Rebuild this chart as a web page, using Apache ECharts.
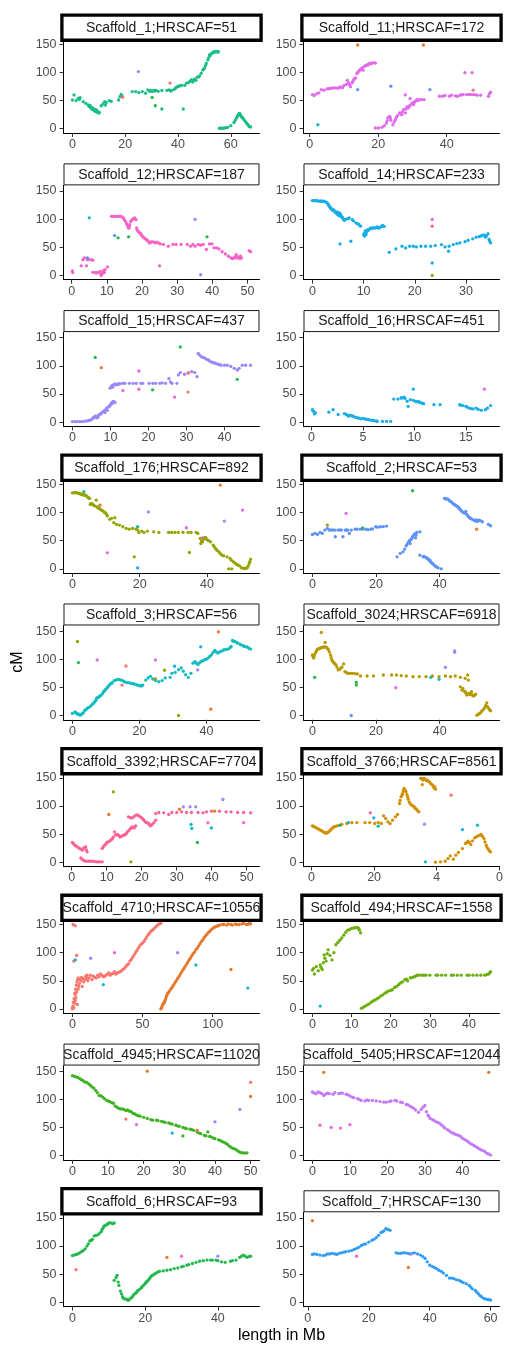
<!DOCTYPE html>
<html><head><meta charset="utf-8">
<script src="https://cdn.jsdelivr.net/npm/echarts@6/dist/echarts.min.js"></script>
<style>html,body{margin:0;padding:0;background:#fff}#c{width:509px;height:1349px}</style>
</head><body><div id="c"></div>
<script>
// ---------------- DATA ----------------
const yTicks = [0, 50, 100, 150];

const s1_main = [[0,51],[0.6,60],[1.4,50],[2.2,54],[2.9,55],[2.6,52],[4.1,48],[5.1,45],[6,42.5],[6.3,40],[6.6,39.6],[7,37],[7.3,38],[7.6,36.6],[8,35],[8.4,33.7],[8.7,34],[9.1,32],[9.4,31],[9.8,29.5],[10,27.8],[7.8,35.5],[8.9,31.5],[6.8,41],
[10.9,40.8],[11.6,44],[12.2,48],[12.5,42],[12.8,46.7],[14,50],[14.7,48.4],[17.5,51],[18,57],[18.5,61],[19,57],
[22.7,66],[24,66],[25.2,64],[26.5,66],[27.7,63],[28.6,69],[29.6,68],[30.2,66],[30.8,68],[31.7,68],[33.9,68],[35.8,68],[36.6,69],[37.2,67],[37.6,68],[38.6,70],[39.5,74],[40.4,76],[41.4,77],[42.6,77],[43.2,81],[44.5,84],[45.1,87],[45.6,83],[46.3,88],[46.8,86],[47.3,91.6],[48.2,94],[48.8,98.6],[49.4,104.5],[50,107.5],[50.7,116],[51.3,122],[51.9,131],[52.5,133],[53.2,135],[53.8,136],[54.4,137],[55.3,137],
[55.7,1],[56.5,1],[57.5,1],[58.2,2],[58.8,2.4],[60,5.3],[61.2,11],[62.2,19],[62.7,24],[63.1,26.6],[63.6,25],[64,22],[64.5,19],[65,16],[65.5,13],[66,10],[66.8,5.3],[67.5,3],[33.9,35],[42,35],
[6.9,38],[7.5,34],[8.2,33],[8.6,31],[9.2,30],[9.6,29],[10.2,29],[9,33.5],[51.6,126],[52.2,130],[52.8,134],[53.5,136.5],[54.1,137],[54.8,137.5],[55,136],[49.7,106],[50.4,112],[47.8,92],[46,85.5],[44,82],[61.7,15],[62.5,22],[63.3,27],[64.2,20.5],[66.3,8],[67,4],[56,0.5],[57,1],[29.2,66.5],[31.2,67],[32.5,66.5],[39,72],[40,75],[41,76.5]];
const s1_other = [[25,101.6,'PU'],[37,81,'R'],[19,56,'R'],[30.2,55.5,'G2'],[31.4,40.8,'G2']];

const s11_main = [[0.8,60.7],[1.3,59],[2,62],[2.7,63.7],[3.4,69.6],[4.2,68.5],[5.1,70.8],[6.1,72],[7.1,72.6],[8.2,72],[9,74.4],[9.6,73],[10,76.8],[10.7,78.6],[11,86],[11.4,81.5],[11.9,74.4],[12.4,81.5],[12.9,87.5],[13.4,90.5],[13.8,98],[14.3,102],[14.8,105],[15.3,108],[15.6,104],[16,111],[16.8,114],[17.3,115],[17.8,116],[18.3,117],[18.8,117],[19.2,116.7],
[19.2,1.2],[20.1,1.2],[21.1,2.4],[21.8,5.4],[22.4,10],[22.8,19],[23.3,22],[23.7,15],[24.3,7],[25,16],[25.6,23],[26.2,28],[26.9,25],[27.4,34],[27.9,28],[27.9,60],[28.4,38.7],[28.8,37],[29.3,41],[29.3,53.6],[29.8,44.6],[30.3,42.9],[30.8,48.8],[31.3,51.8],[32,51.8],[32.7,51.8],[33.4,51.8],
[37.9,57.7],[38.8,57.7],[39.5,59],[40.8,57.7],[41.4,59.5],[43.1,57.7],[43.9,59.5],[44.8,60.7],[45.8,60.7],[47,60.7],[47.7,60.7],[48.9,59.5],[49.9,59.5],[52.2,57.7],[52.5,62.5],[52.8,64.9],[45.3,99.4],[47.4,99.4],
[16.4,112],[17,113],[17.5,116],[18,115.5],[14,100],[14.6,104],[15,106],[12.6,84],[13.1,89],[11.7,78],[22.6,14],[23.5,19],[24.7,12],[25.3,20],[26.5,26],[27,30],[28.1,35],[29,40],[30,46],[30.6,47],[31.6,50],[44.3,60],[46.5,61],[48.3,60.5],[42.5,58.5],[5.6,71],[6.6,72],[7.6,72.5],[8.6,73]];
const s11_other = [[14,148.8,'O'],[33.2,148.8,'O'],[14,69.6,'CB'],[23.7,75.6,'CB'],[35.1,69.6,'CB'],[47.7,68.5,'R'],[2.4,7,'CY']];

const s12_main = [[0.2,8],[0.3,5],[2.7,17],[3.2,28],[3.6,31],[4.2,17],[4.5,28],[5,28],[5.7,28],[6,27],
[6,5.4],[6.8,5.4],[7.5,5.4],[8.1,7],[8.4,0],[8.7,3],[9.1,9],[9.5,10],[10.2,15],
[11.3,105],[12.2,105],[13.1,105],[14,105],[14.7,102],[15.3,96],[15.8,90],[16.2,84],[16.5,90],[16.8,96],[17.4,100],[17.9,102],[18.3,99],
[18.5,84.5],[18.9,78.6],[19.4,75.6],[19.8,72.6],[20.3,68.5],[21,65],[21.6,62],[22.1,57.7],[22.8,60],[23.4,59],[24.3,59],[25.2,56],[26.1,55],[27.5,52],[28.8,55],[29.7,55],[31.1,55],[32.9,55],[33.8,52],[34.5,55],[35.1,52],[36,55],[36.7,53.6],[37.4,55],[38.3,46],[39.2,56],[39.9,56],[40.5,49],[41.2,49],[41.9,47],[42.8,42],[43.7,38],[44.6,34],[45.3,31],[46.2,31],[47.3,33],[48,34],[50.5,44],[50.9,42],[25,17],
[11.7,105],[12.6,105],[13.5,105],[14.3,104],[15,99],[15.6,92],[16,87],[16.4,86],[17.1,98],[17.7,101],[18.6,81],[19.1,77],[19.6,74],[20,70],[20.7,66],[21.3,63],[21.9,60],[22.4,58],[23.8,58],[24.8,57.5],[7,4],[8.3,2],[8.9,6],[9.3,5],[46.5,33],[47,31],[46.8,37],[45.8,30],[47.8,30],[48.3,31]];
const s12_other = [[5,102.4,'CY'],[4.5,31,'CB'],[12.2,70.8,'CB'],[13.2,66.7,'G2'],[16.2,68.5,'G2'],[38.5,68.5,'G2'],[35.1,99.4,'PU'],[36.7,1.2,'PU']];

const s14_main = [[0,133],[0.4,132.5],[0.8,133],[1.2,132],[1.5,132],[1.8,132],[2.1,132],[2.4,131],[2.7,130],[3.1,126],[3.4,122],[3.7,118.5],[4,117],[4.3,114],[4.6,111],[4.8,113],[5,108],[5.3,111],[5.6,105],[5.9,102],[6.2,98],[6.7,100.6],[7.2,102],[7.8,99],[8.5,93.5],[9.1,90.5],[9.4,87.5],
[10,72],[10.2,70],[10.4,76.8],[10.6,78],[10.8,81.5],[11.3,84],[11.8,85],[12.3,84.5],[12.7,86.3],[13.2,85],[13.7,88.7],[14,87],[5.4,56],[7.5,60.7],
[15,41],[16.3,47],[17.5,51.8],[18.2,48.8],[19,51.8],[19.7,51.8],[20.3,50.6],[21.2,51.8],[22.1,51.8],[23.1,51.8],[24,53],[25.2,54.8],[25.9,50.6],[26.6,42.9],[26.7,51.8],[27.5,54.8],[28.2,56.5],[28.8,57.7],[29.8,60],[30.4,62.5],[31.3,65],[32,68],[32.6,69],[33.2,71],[33.9,70],[34.3,74],[34.5,64],[34.8,58],[23.4,22],
[0.2,133],[0.6,133],[1,132.5],[1.7,132],[2.3,131.5],[2.9,129],[3.2,124],[3.5,120],[3.9,116],[4.2,116],[4.5,112],[4.9,109],[5.2,106],[5.5,109],[5.8,104],[6.1,100],[6.4,99],[7,101],[8,97],[8.8,92],[10.1,74],[10.3,79],[10.5,73],[10.9,80],[11.1,82],[11.5,83],[12,84],[12.5,85.5],[12.9,84],[13.5,87],[33.5,72],[33.8,68],[34,70.5],[32.9,70],[34.6,61]];
const s14_other = [[23.4,99.4,'MA'],[23.4,87.5,'PR'],[23.4,0,'OL']];

const s15_main = [[0,1],[0.7,1],[1.3,1],[2,1],[2.6,1],[3.3,1.5],[3.9,2.3],[4.3,2.8],[4.7,3.5],[5.1,5],[5.4,7],[6,10.5],[6.4,7.6],[6.8,9],[7.1,13.5],[7.7,16.4],[8.3,19.3],[8.6,17],[8.9,23.4],[9.2,21],[9.5,27],[9.9,29.3],[10.3,34],[10.7,37],[11.2,35],
[9.9,60.3],[10.3,64.4],[10.8,66],[11.2,68],[12,67],[12.5,68],[13.2,69],[13.8,69],[15,69],[16,69],[16.8,69],[18,69],[18.5,69],[20.2,69],[21.2,69],[21.9,69],[23,69],[23.6,69.7],[24.5,69],[25.4,77.3],[25.8,71.5],[26.2,69],[27.5,69],[27.9,83.8],[28.4,88],[29.5,85],[30.5,88],[31.4,89.6],[32.2,88],[32.8,80.8],
[33.1,121.9],[34,116],[34.8,114],[35.7,111],[36.5,107],[37.4,105],[38.3,103],[39.1,101],[40,101],[40.8,101],[41.7,99],[42.6,95.5],[43.4,92.6],[43.9,95.5],[44.7,101],[45.6,101],[46.9,101],
[5.7,9],[6.2,8],[6.6,11],[7.4,14],[8,18],[8.5,21],[9,25],[9.7,28],[10,31],[10.5,33],[11,36],[10.6,62],[11.5,66],[12.2,68.5],[11.8,67],[33.5,119],[34.3,115],[35.2,112],[36,109],[36.9,106],[37.8,104],[38.7,102]];
const s15_other = [[6,115,'G2'],[21.1,57.4,'G2'],[28.4,133.6,'G2'],[43.4,76,'G2'],[7.6,96.7,'O'],[17.5,90.8,'PK'],[13.3,56,'PK'],[17.5,58.6,'PK'],[26.9,44.5,'PK'],[30.4,53.3,'R'],[30.5,86.7,'R']];

const s16_main = [[0.1,22],[0.2,19.3],[0.3,14.6],[0.4,16.4],[1.7,17.6],[2.1,22],[2.6,13.5],[3.2,15.2],[3.4,13.5],[3.6,10.5],[3.9,11.7],[4.2,9.4],[4.5,7.6],[4.8,5.9],[5.2,5.9],[5.5,4.7],[5.8,3.5],[6.1,2.3],[6.4,1.2],[6.9,1.2],[7.3,1.2],[7.7,1.2],
[8,41],[8.4,41],[8.7,42.8],[9,44.5],[9.3,37],[9.4,28],[9.6,39.8],[9.9,38.7],[10.1,37],[10.4,37],[10.7,34],[10.9,32.8],[9.9,58.6],[11.9,31],[12.5,31],
[14.4,31],[14.7,29.3],[15,28],[15.3,25],[15.7,23.4],[16,25],[16.5,21],[16.9,22],[17.1,25],[17.4,29.3],
[3.7,12],[4,10.5],[4.3,8.5],[4.6,7],[5,6.5],[5.3,5],[5.6,4],[6,3],[6.3,2],[8.8,43],[9.1,42],[10.2,36],[10.5,35],[10.8,33],[14.5,30],[15.1,27],[15.5,24],[16.2,22.5]];
const s16_other = [[16.8,58.6,'MA']];

const s176_main = [[0,135],[0.5,135],[1,135.7],[1.5,134.5],[1.9,134],[2.4,133],[2.9,132],[3.4,131.5],[3.9,131],[4.5,128],[5.1,125],[5.3,114.4],[5.8,116],[6.3,113],[7.1,122],[7.3,110],[7.7,108],[8,107],[8.7,104],[9.4,101],[10,98.4],[10.4,94],[11.1,88],[11.6,89.5],[12.3,82],[12.6,90.7],[13.1,78.8],[14,77.7],[15,74.7],[16,71.7],[16.9,70.5],[17.9,71.7],[18.9,70.5],[19.4,68.8],[19.8,64.6],[20.6,67],[21.3,64.6],[22.3,67],[24.2,65.8],[25.7,64.6],[28.6,64.6],[29.5,64.6],[30.5,64.6],[31.5,64.6],[32.9,64.6],[34.4,64.6],[35.3,64.6],[36.8,64.6],[37.3,62.8],[38,54],[38.2,45],[38.7,48],[39.2,54],[39.7,55],[41.1,48],[41.9,42],[42.6,36],[43.6,30],[44.5,24.3],[46,21.3],[46.9,18.4],[47.9,12.4],[48.9,7.7],[49.7,5.3],[50.3,1.8],[51.3,0.6],[52,1.8],[52.6,9.5],[53,17.2],[46.5,0],[47.4,0],[18.4,21.3],[34.8,29],
[1.2,135],[2.1,133.5],[2.6,132.5],[3.1,131.5],[3.6,131],[4.2,129],[4.8,126],[5.5,116],[6,114.5],[6.6,112],[7.5,109],[8.3,106],[9,103],[9.7,100],[10.2,96],[38.4,50],[38.9,52],[39.4,56],[40,52],[40.5,50],[42.2,39],[43,33],[44,27],[45,23],[47.3,15],[48.4,10],[49.3,6.5],[50.8,1],[51.7,1],[52.3,5],[52.8,13]];
const s176_other = [[3.4,137,'TG'],[19.4,74.7,'TG'],[8.2,113,'O'],[44,148.8,'O'],[10.4,28.4,'MA'],[33.9,73,'MA'],[50.6,104.3,'MA'],[19.4,1.8,'SK'],[22.6,101,'PU'],[45.2,84.8,'PU'],[38.7,55,'PR']];

const s2_main = [[0,61],[0.8,62.8],[1.6,61],[2.4,64.6],[3.1,62.8],[3.9,68.8],[4.7,71.7],[5.8,68.8],[7,68.8],[7.2,57],[8,68.8],[9.1,68.8],[9.6,57],[10.3,68.8],[11.1,68.8],[11.6,62.8],[12.2,68.8],[13.4,70.5],[15.8,70.5],[16.8,70.5],[17.5,69.5],[18.4,70.5],[19.9,74.7],[21.4,74.7],[23.3,75.9],
[26.6,21.3],[27.6,27.3],[28.5,30.2],[29,35],[29.5,41],[30.2,48],[30.7,45],[31.2,54],[31.9,60],[32.4,55],[32.8,64.6],[33.8,65.8],
[33.8,24.3],[34.8,21.3],[35.9,19.6],[36.4,17],[36.9,15.4],[37.7,9.5],[38.5,5.3],[39.5,1.8],[40.5,0],
[41.5,125],[42.6,123.9],[43.6,119],[44.6,114.4],[45.2,112],[45.7,110],[46.2,107],[46.7,104],[47.4,100],[48.2,102],[48.8,94],[49.8,89.5],[50.8,86.5],[51.6,87],[52.4,86.5],[53.4,83.6],[55.3,78.8],[56,76.5],
[41.9,124.5],[42.2,124],[43,121.5],[43.3,120],[44,117],[44.3,115.5],[45,113],[45.5,111],[46,108.5],[46.5,105],[47,102],[47.8,99],[48.5,97],[49.2,92],[49.5,90],[50.2,88],[51.1,85],[51.8,84],[52.7,85.5],[29.8,44],[30.5,50],[31,52],[31.5,57],[32.1,62],[32.6,60],[35,22],[35.5,20.5],[36.2,18],[37,13],[37.4,11],[38,8],[38.8,4],[39.2,3],[5.3,69],[6.4,69],[8.6,69],[10.7,69],[14,70.5],[15,70.5],[18.9,71],[20.5,74],[22.3,75]];
const s2_other = [[4.7,77.7,'OL'],[10.6,98.4,'MA'],[15.8,72.9,'G2'],[31.5,138.7,'G2'],[51.6,70.5,'O']];

const s3_main = [[0,3.6],[0.8,6.5],[1.5,2.4],[2.3,0.6],[3,3.6],[3.7,9.5],[4.4,12.5],[5.2,15.5],[6,20.2],[6.7,24.4],[7.2,30.4],[8,33.3],[8.6,36.3],[9.3,42.3],[9.9,46.4],[10.6,51],[11.3,56],[11.9,58.3],
[12.5,62],[13.5,64.3],[14.5,63],[15.5,60],[16.5,58.3],[17.5,57],[18.4,56],[19.4,54],[20.4,52.4],[21,54],
[21.9,63],[22.6,66.7],[23.3,69.6],[24,64.9],[24.8,62],[25.8,60],[26.8,62],[27.7,66.7],[29.2,67.9],[29.7,75],[30.7,76.8],[31.7,81.5],[32.5,84.5],[33.1,78.6],[33.8,72.6],[34.6,67.9],[35.4,75],[36.6,95.8],[37.5,90.5],[38.5,96.4],[39.5,99.4],[40.5,102],[41.5,107.7],[42.5,115.5],[43.4,111],[44.4,114],[45.4,117],[46.4,118],[47.4,122.6],[47.8,133.3],[48.5,131.5],[49.3,128.6],[50.3,125.6],[51.3,122.6],[52.3,121.4],[53.2,118],
[1,5],[1.8,3],[2.6,1.5],[3.3,5],[4,10],[4.7,14],[5.5,17],[6.3,22],[7,27],[7.6,32],[8.3,35],[9,39],[9.6,44],[10.3,49],[10.9,53],[11.6,57],[13,63],[14,64],[15,62],[16,59],[17,58],[18,56.5],[19,55],[19.9,53],[20.7,53],[36,93],[37,93],[38,94],[39,97],[40,100],[41,105],[42,112],[43,113],[44,113],[45,116],[46,117.5],[47,120],[48,132],[49,130],[50,127],[51,124],[52,122],[52.8,119]];
const s3_other = [[1.5,131.5,'OL'],[24.8,64.9,'OL'],[27.5,80.4,'OL'],[31.7,0,'OL'],[1.8,94,'G2'],[7.4,98.8,'MA'],[24.8,98.8,'MA'],[16,88,'R'],[14.8,54,'R'],[30.5,87.5,'SK'],[38.3,122,'SK'],[37.4,81,'PU'],[43.6,148.8,'O'],[41.3,11.3,'O']];

const s3024_main = [[0,107.7],[0.4,102],[0.9,110.7],[1.5,117.3],[2.3,119.6],[2.8,147.6],[3.3,121.4],[4,129.8],[4.3,121.4],[5,117.3],[5.7,107.7],[6.1,98.8],[6.7,94],[7.4,90],[8.1,81],[8.9,84],[9.8,91.7],[10.2,78],[11.2,75],[12.5,75],[14.1,73.8],[15.1,70.2],[17.2,70.2],[19.2,70.2],[22.3,72],[24.9,72],[26.4,72],[27.9,70.8],[29.5,70.2],[31.6,69],[33.6,69],[35.7,69],[37.7,70.2],[39.8,69],[41.8,70.2],[43.4,69],[44.9,70.2],[46.5,67.9],[48,66],[48.8,72],[49,63],[46.5,51],[47,45],[48,42.3],[48.5,36.3],[49.2,39.3],[50,42.3],[50.6,34.5],[51.3,38],[51.7,0.6],[52.6,3.6],[53.3,8.3],[54.2,14.3],[54.8,22.6],[55.4,12.5],[56,8.3],
[0.2,105],[0.6,106],[1.2,114],[1.8,118],[2,119],[2.6,120],[3,121],[3.6,121.4],[3.9,122],[4.6,120],[5.3,113],[5.9,103],[6.4,96],[7,92],[7.7,86],[8.5,82],[9.3,86],[10.7,76],[11.8,75],[13.3,74.5],[47.3,48],[47.8,43],[48.2,40],[48.8,38],[49.5,37],[49.8,40],[50.3,36],[51,36],[52,2],[52.3,2.5],[53,6],[53.8,11],[54.5,18],[55,16],[55.7,10]];
const s3024_other = [[0.7,67.9,'G2'],[13.8,54,'G2'],[13.8,58.9,'G2'],[12.2,0,'CB'],[26.2,49.4,'MA'],[37.2,67.9,'CY'],[39.8,64.3,'CY'],[41.8,85.7,'PU'],[44.7,114.9,'PU'],[44.7,112.5,'PU']];

const s3392_main = [[0.2,35],[0.9,30.2],[1.6,27.3],[2.3,24.3],[3.1,21.3],[3.5,25.5],[4,27.3],[4.4,18.4],[2.6,7.7],[3.3,3.6],[4,1.8],[4.9,1.8],[5.9,1.8],[7,0.6],[8,0.6],[8.7,0.6],
[8.7,24.3],[9.4,30.2],[10,35],[10.8,37.3],[11.5,41],[12.2,54],[12.5,48],[13.1,49.2],[13.8,45],[14.5,46.8],[15.3,49.2],[15.9,54],[16.6,58.7],[17.2,62.8],[17.8,61],[18.3,64.6],[16.2,80.6],[17.4,78.8],[18.3,83.6],[19.2,82.4],[20,78.8],[20.6,74.7],[21.3,70.5],[22,68.8],[22.5,64.6],[23,67],[23.5,70.5],[24,74.7],[24,86.5],
[24.9,88.3],[26.3,87.7],[27.7,84.8],[28.6,88.3],[30,88.3],[31.4,89.5],[32.8,88.3],[34.2,88.3],[36.1,88.3],[37.5,87.7],[38.5,89.5],[39.9,90.7],[42.2,90.7],[44.1,89.5],[45.5,89.5],[47.4,88.3],[49.1,88.3],[51.1,87.7],
[0.5,33],[1.2,29],[2,25.5],[2.7,23],[3.7,26],[4.2,22],[2.9,5.5],[3.6,2.5],[4.5,1.8],[5.4,1.8],[6.4,1.5],[7.5,0.6],[9,27],[9.7,32],[10.4,36],[11.1,39],[11.8,44],[12.8,49],[13.5,47],[14.2,46],[14.9,48],[15.6,51],[16.3,56],[16.9,60],[17.5,62],[18,63],[16.8,79],[17.8,81],[18.7,84],[19.6,80.5],[20.3,77],[21,72],[21.7,70],[22.2,66]];
const s3392_other = [[38.9,70,'PK'],[49.1,70.5,'PK'],[10.6,84.8,'O'],[30.8,94.2,'O'],[40.8,90.7,'O'],[11.9,125,'OL'],[16.9,0.6,'OL'],[31.9,98.4,'PU'],[33.8,98.4,'PU'],[35.4,98.4,'PU'],[43.2,111.4,'PU'],[34.1,67,'CY'],[34.3,59.9,'CY'],[39.9,61,'CY'],[35.9,35,'G2']];

const s3766_main = [[0.3,64.6],[1,62.8],[1.9,60],[2.9,57],[3.8,54],[4.5,52],[5.5,54],[6.3,58.7],[7.1,62.8],[8.2,64.6],[9.7,67],[11.3,68.8],[12.9,70.5],[14.5,70.5],[17.1,70.5],[18.6,70.5],[20.2,68.8],[21.3,70.5],[22.3,68.8],[23,82.4],[23.7,77.7],[24.4,71.7],[25.1,68.8],[25.9,74.7],[26.8,80.6],[27.5,84.8],[28.1,104.3],[28.6,116.2],[29.1,122.1],[29.6,131],[30.2,125],[30.7,116.2],[31.2,107.3],[32,101.4],[32.8,98.4],[33.5,94.3],[34.3,89.5],
[34.9,148.8],[35.9,148.8],[37,145.8],[37.7,142.9],[38.5,138],[39.4,134],[39.6,129.8],[35.4,138],
[39.6,0],[41.2,0.6],[42.7,1.8],[43.6,6.5],[44.3,11.3],[45.3,5.3],[46.1,12.4],[46.9,17.2],[48.2,24.3],[49.2,33.2],[50,37.3],[50.9,31.4],[52.1,43.3],[53.2,46.8],[54.2,49.2],[55.1,42],[55.8,30.2],[56.5,23.1],[57.2,18.4],
[0.6,63.5],[1.4,61.5],[2.4,58.5],[3.3,55.5],[4.1,53],[4.8,51.5],[5.1,53],[5.9,56],[6.7,60.5],[7.6,63.5],[28.3,110],[28.9,119],[29.3,127],[29.9,128],[30.5,120],[30.9,112],[31.5,104],[32.4,100],[33.1,96],[33.9,91.5],[35.2,149],[35.6,146],[36.3,148],[36.7,145],[37.3,144],[38,140],[38.8,136],[39.1,132],[49.6,35],[50.4,35],[51.4,38],[52.6,45],[53.7,48],[54.6,46],[55.4,36],[56.1,26],[56.8,20]];
const s3766_other = [[9,65.8,'G2'],[11.8,70.5,'SK'],[19.9,78.8,'SK'],[48.2,58,'SK'],[18.8,87.7,'PR'],[21.3,64,'CY'],[36.4,0.6,'CY'],[53,65.8,'CY'],[36.1,67.6,'PU'],[44.6,119.1,'R']];

const s4710_red = [[0,0],[0.5,5],[1,2],[1.5,10],[2,15],[2,25],[2.5,20],[3,30],[3.5,8],[4,35],[4.5,40],[5,45],[6,50],[7,40],[8,48],[9,52],[10,55],[11,50],[12,55],[14,52],[15,58],[17,55],[19,57],[21,60],[23,58],[25,62],[27,60],[29,63],[31,62],[33,65],[35,68],[37,72],[39,78],[41,85],[43,92],[45,100],[47,108],[49,115],[51,120],[53,128],[55,135],[57,140],[59,145],[61,150],[63,152],[0.5,150],[2,148],[1,85],[3,95],
[0.2,3],[0.7,12],[1.2,18],[1.7,28],[2.3,35],[2.8,42],[3.2,48],[3.7,52],[4.2,55],[5.5,52],[6.5,56],[7.5,54],[9.5,58],[10.5,60],[13,60],[16,56],[18,60],[20,62],[22,57],[24,60],[26,64],[28,62],[30,66],[32,64],[34,66],[36,70],[38,75],[40,80],[42,88],[44,96],[46,104],[48,112],[50,117],[52,124],[54,132],[56,138],[58,142],[60,147],[62,151]];
const s4710_orange = [[63,0],[64,5],[65,10],[66,15],[67,22],[68,28],[70,35],[72,42],[74,50],[76,58],[78,66],[80,74],[82,82],[84,90],[86,98],[88,105],[90,112],[92,120],[94,127],[96,133],[98,138],[100,143],[102,146],[104,148],[107,150],[110,149],[113,150],[116,151],[119,150],[122,152],[125,150],[127,151],
[63.5,2],[64.5,8],[65.5,12],[66.5,18],[67.5,25],[69,31],[71,38],[73,46],[75,54],[77,62],[79,70],[81,78],[83,86],[85,94],[87,101],[89,108],[91,116],[93,123],[95,130],[97,136],[99,141],[101,145],[103,147],[105,149],[108,150],[111,151],[114,149],[117,150],[121,151],[124,150],[126,152]];
const s4710_other = [[2,87,'SK'],[13,90,'PU'],[75,100,'PU'],[22,43,'CY'],[88,78,'CY'],[125,37,'CY'],[113,70,'O'],[30,100,'PK']];

const s494_main = [[0,69],[0.5,62],[1,75],[2,78],[2.5,70],[3,96],[3.5,85],[4,105],[5,87],[5.5,100],[6,114],[7,122],[8,131],[9,140],[10,143],[11,144],[11.5,145],[12,140],[12.3,135],
[12.5,1],[13,3],[14,7],[15,12],[16,16],[17,20],[18,25],[19,30],[20.4,34],[21,38],[22,43],[23,48],[23.6,52],[24.3,50],[25,55],[26,57],[26.8,60],[28,60],[29,60],[30,60],[31.6,60],[33,60],[34,60],[35.5,60],[37,60],[38,60],[39.5,60],[41,60],[42,60],[43,60],[44,60],[45,62],[45.5,66],
[0.3,72],[1.5,68],[2.2,74],[2.8,82],[3.2,90],[3.8,98],[4.5,95],[6.5,118],[7.5,126],[8.5,136],[9.5,141],[10.5,144],[11.2,145],[11.8,143],[13.5,5],[14.5,9],[15.5,14],[16.5,18],[17.5,23],[18.5,28],[19.5,32],[20,33],[21.5,40],[22.5,46],[24,53],[25.5,56],[26.3,58],[27.3,60],[28.5,60],[32,60],[36,60],[40,60],[44.5,61],[45.2,64]];
const s494_other = [[2,5,'CY']];

const s4945_main = [[0,142],[1,140],[2,137],[3,133],[4,130],[5,125],[6,120],[7,112],[7.5,107],[8.5,104],[9.7,98],[10.5,96],[11.5,93],[12,88],[13,84],[14,83],[15.5,81],[16.5,78],[18,72],[19,70],[21,66],[22,64],[23.6,63],[25,61],[26,59],[27.5,57],[29,54],[30,52],[31.6,49],[33,47],[34,45],[35.5,40],[37,36],[38.5,34],[39.7,31],[41,28],[42.4,24],[43.5,20],[45,13],[46,10],[47,6],[48,5],[49,5],[31,35],[38,42],
[0.5,141],[1.5,139],[2.5,135],[3.5,131],[4.5,128],[5.5,122],[6.5,116],[8,106],[9,101],[10,97],[11,94],[12.5,86],[13.5,83],[14.5,82],[15,80],[16,79],[17,75],[17.5,74],[18.5,71],[20,68],[22.5,63],[24,62],[25.5,60],[27,58],[28,56],[29.5,53],[31,50],[32,48],[33.5,46],[35,42],[36,39],[37.5,35],[39,33],[40,30],[41.5,27],[42,25],[43,22],[44,17],[44.5,15],[45.5,12],[46.5,8],[47.5,5],[48.5,4.5]];
const s4945_other = [[21,150,'O'],[50,105,'O'],[35,45,'O'],[50,130,'R'],[15,65,'R'],[47,82,'PU'],[40,60,'PU'],[18,55,'MA'],[28,40,'SK']];

const s5405_main = [[0,113],[1,110],[2,112],[3,107],[4,111],[5.5,109],[7,110],[8,111],[9.5,108],[10.6,104],[12,101],[13,98],[14.5,99],[16,98],[18,96],[19.7,95],[21,97],[22,98],[23.5,95],[25,91],[26,88],[27,84],[28.3,77],[29,82],[30,89],[30.8,72],[31.4,66],[32.5,62],[33.5,59],[34.5,54],[35.3,49],[36,46],[37,41],[38,38],[39,36],[40,31],[41,27],[42,22],[43,18],[44,14],[45,10],[46,7],[46.5,4],[47.5,1],
[0.5,111],[1.5,113],[2.5,110],[3.5,109],[4.5,110],[6,112],[7.5,111],[9,109],[10,106],[11,103],[12.5,100],[14,97],[15,98],[17,97],[19,95],[20.5,96],[22.5,97],[24,94],[25.5,90],[26.5,86],[27.5,81],[29.5,86],[30.4,78],[31,70],[32,64],[33,60],[34,57],[35,51],[36.5,44],[37.5,40],[38.5,37],[39.5,34],[40.5,29],[41.5,25],[42.5,20],[43.5,16],[44.5,12],[45.5,9],[47,3]];
const s5405_other = [[2,54,'PK'],[7.5,49,'PK'],[5,50,'MA'],[3,148,'O'],[47,148,'O'],[10,55,'MA']];

const s6_main = [[0,83],[1,85],[2,88],[3,92],[3.5,95],[4.8,109],[5.5,112],[6,118],[7,120],[7.5,123],[8.2,130],[8.8,136],[9.5,138],[10,141],[11,140],[11.5,141],
[11.5,39],[12.3,48],[12.8,30],[13.5,15],[14,7],[15,5],[15.5,4],[16.2,8],[16.8,13],[17.5,17],[18,21],[19,26],[19.5,30],[20.2,35],[20.8,39],[21.5,45],[22,48],[23,52],[23.5,54],[25,56],[26,57],[28,60],[29,61],[30.5,64],[31.5,66],[33,69],[34,71],[36,74],[37,75],[38.5,75],[39.5,75],[41,72],[42,71],[43.5,73],[45,75],[46,80],[47,84],[48,80],[49,82],
[0.5,84],[1.5,86],[2.5,90],[4,100],[4.4,104],[5.2,110],[6.5,119],[8,126],[8.5,133],[9.2,137],[9.8,140],[10.5,141],[11.2,140],[12,44],[12.6,36],[13.2,20],[13.8,10],[14.5,6],[15.2,4],[15.8,6],[16.5,10],[17.2,15],[17.8,19],[18.5,23],[19.2,28],[20,33],[20.5,37],[21.2,42],[21.8,47],[22.5,50],[24,55],[27,58],[30,63],[32,67],[35,73],[38,75],[40,74],[44,74],[46.5,82],[47.5,82],[48.5,81]];
const s6_other = [[1,58,'R'],[26,80,'O'],[30,82,'PK'],[40,82,'PU']];

const s7_main = [[1.5,85],[3,85],[5,83],[6.5,86],[8,87],[9.5,85],[11,88],[12.5,90],[14.4,92],[16,96],[17.6,101],[19,104],[21,110],[22.5,115],[24,124],[25,127],[25.6,131],[27,128],[29,88],[30.5,87],[32,88],[33.5,86],[35,88],[37,84],[38.5,78],[40,66],[41.5,62],[43,57],[44.5,52],[46.5,43],[48,42],[49.7,39],[51,35],[53,30],[54,24],[55.5,18],[56.5,12],[57.7,7],[59,5],[60,4],
[2.2,86],[4,84],[5.8,84],[7.2,86],[8.8,86],[10.2,87],[11.8,89],[13.5,91],[15.2,94],[16.8,98],[18.3,103],[20,107],[21.7,112],[23.2,119],[24.5,125],[26,130],[26.5,129],[29.7,87],[31.2,88],[32.8,87],[34.3,87],[36,86],[37.8,81],[39.2,72],[40.8,64],[42.2,60],[43.8,55],[45.5,48],[47.2,43],[48.8,40],[50.3,37],[52,33],[53.5,27],[55,21],[56,15],[57,10],[58.3,6],[59.5,4.5]];
const s7_other = [[1.5,145,'O'],[33,62,'O'],[16,82,'PK'],[34,86,'PU']];

const tk_a = [0,20,40,60], tk_b = [0,20,40], tk_c = [0,10,20,30,40,50], tk_d = [0,10,20,30], tk_e = [0,10,20,30,40], tk_f = [0,5,10,15], tk_g = [0,50,100];
const s3766_tickLabels = ['0','20','4','0'];

// ---------------- STYLE ----------------
const COLORS = {R:'#F8766D',O:'#E5782A',GD:'#D18F00',DG:'#B49A00',OL:'#95A400',YG:'#6CAE0A',G:'#3DB223',G2:'#22B84E',TG:'#19BD8A',CY:'#11BCC0',SK:'#18ADE6',BL:'#2F9CF5',CB:'#5E92F7',PU:'#9D86FA',VI:'#C27BF5',MA:'#E06AEA',PK:'#F564C4',PR:'#FA6396'};

const panels = [
 {name:'Scaffold_1;HRSCAF=51', groups:[['TG',s1_main]], other:s1_other, ticks:tk_a, thick:true},
 {name:'Scaffold_11;HRSCAF=172', groups:[['MA',s11_main]], other:s11_other, ticks:tk_b, thick:true},
 {name:'Scaffold_12;HRSCAF=187', groups:[['PK',s12_main]], other:s12_other, ticks:tk_c},
 {name:'Scaffold_14;HRSCAF=233', groups:[['SK',s14_main]], other:s14_other, ticks:tk_d},
 {name:'Scaffold_15;HRSCAF=437', groups:[['PU',s15_main]], other:s15_other, ticks:tk_e},
 {name:'Scaffold_16;HRSCAF=451', groups:[['SK',s16_main]], other:s16_other, ticks:tk_f},
 {name:'Scaffold_176;HRSCAF=892', groups:[['OL',s176_main]], other:s176_other, ticks:tk_b, thick:true},
 {name:'Scaffold_2;HRSCAF=53', groups:[['CB',s2_main]], other:s2_other, ticks:tk_b, thick:true},
 {name:'Scaffold_3;HRSCAF=56', groups:[['CY',s3_main]], other:s3_other, ticks:tk_b},
 {name:'Scaffold_3024;HRSCAF=6918', groups:[['DG',s3024_main]], other:s3024_other, ticks:tk_b},
 {name:'Scaffold_3392;HRSCAF=7704', groups:[['PR',s3392_main]], other:s3392_other, ticks:tk_c, thick:true},
 {name:'Scaffold_3766;HRSCAF=8561', groups:[['GD',s3766_main]], other:s3766_other, ticks:tk_a, labels:s3766_tickLabels, thick:true},
 {name:'Scaffold_4710;HRSCAF=10556', groups:[['R',s4710_red],['O',s4710_orange]], other:s4710_other, ticks:tk_g, thick:true},
 {name:'Scaffold_494;HRSCAF=1558', groups:[['YG',s494_main]], other:s494_other, ticks:tk_e, thick:true},
 {name:'Scaffold_4945;HRSCAF=11020', groups:[['G',s4945_main]], other:s4945_other, ticks:tk_c},
 {name:'Scaffold_5405;HRSCAF=12044', groups:[['VI',s5405_main]], other:s5405_other, ticks:tk_e},
 {name:'Scaffold_6;HRSCAF=93', groups:[['G2',s6_main]], other:s6_other, ticks:tk_b, thick:true},
 {name:'Scaffold_7;HRSCAF=130', groups:[['BL',s7_main]], other:s7_other, ticks:tk_a}
];

const FONT = "'Liberation Sans', Arial, Helvetica, sans-serif";
const colLeft = [63.5, 303.5], panelW = 196;
const Y_MIN = -7.6, Y_MAX = 160, PX_PER = 84.4/150;
const grids=[], xAxes=[], yAxes=[], series=[], graphics=[];

panels.forEach((p,i)=>{
  const r = Math.floor(i/2), c = i%2;
  const y0 = 128.7 + 146.7*r;
  const top = y0 - Y_MAX*PX_PER, height = (Y_MAX-Y_MIN)*PX_PER, left = colLeft[c];
  grids.push({left:left, top:top, width:panelW, height:height, containLabel:false, outerBoundsMode:'none'});
  let mn=Infinity, mx=-Infinity;
  p.groups.forEach(g=>g[1].forEach(q=>{mn=Math.min(mn,q[0]);mx=Math.max(mx,q[0]);}));
  p.other.forEach(q=>{mn=Math.min(mn,q[0]);mx=Math.max(mx,q[0]);});
  const e=(mx-mn)*0.05;
  xAxes.push({gridIndex:i,type:'value',min:mn-e,max:mx+e,
    axisLine:{show:true,onZero:false,lineStyle:{color:'#000',width:1}},
    axisTick:{show:true,length:4,customValues:p.ticks,lineStyle:{color:'#333',width:1}},
    axisLabel:{customValues:p.ticks,color:'#4D4D4D',fontSize:12.5,fontFamily:FONT,margin:5,
      formatter: p.labels ? (v=>{const k=p.ticks.indexOf(Math.round(v));return k>=0?p.labels[k]:'';}) : (v=>String(Math.round(v)))},
    splitLine:{show:false}});
  yAxes.push({gridIndex:i,type:'value',min:Y_MIN,max:Y_MAX,
    axisLine:{show:true,onZero:false,lineStyle:{color:'#000',width:1}},
    axisTick:{show:true,length:4,customValues:yTicks,lineStyle:{color:'#333',width:1}},
    axisLabel:{customValues:yTicks,color:'#4D4D4D',fontSize:12.5,fontFamily:FONT,margin:7,formatter:v=>String(Math.round(v))},
    splitLine:{show:false}});
  p.groups.forEach(g=>{
    series.push({type:'scatter',xAxisIndex:i,yAxisIndex:i,data:g[1],symbolSize:3.3,
      itemStyle:{color:COLORS[g[0]],opacity:1},silent:true,animation:false,z:2});
  });
  series.push({type:'scatter',xAxisIndex:i,yAxisIndex:i,symbolSize:3.3,silent:true,animation:false,z:3,
    data:p.other.map(q=>({value:[q[0],q[1]],itemStyle:{color:COLORS[q[2]],opacity:1}}))});
  const sh = 22, sy = top - sh;
  if (p.thick) {
    graphics.push({type:'rect',shape:{x:left-1.6,y:sy-1.6,width:panelW+3.2,height:sh+3.2},
      style:{fill:'#fff',stroke:'#000',lineWidth:3.3},z:10});
  } else {
    graphics.push({type:'rect',shape:{x:left+0.5,y:sy+0.5,width:panelW-1,height:sh-1},
      style:{fill:'#fff',stroke:'#1A1A1A',lineWidth:1},z:10});
  }
  graphics.push({type:'text',x:left+panelW/2,y:sy+sh/2+0.5,z:11,
    style:{text:p.name,fill:'#1A1A1A',font:'14px '+FONT,textAlign:'center',textVerticalAlign:'middle'}});
});

graphics.push({type:'text',x:18,y:662,rotation:Math.PI/2,z:11,
  style:{text:'cM',fill:'#000',font:'16px '+FONT,textAlign:'center',textVerticalAlign:'middle'}});
graphics.push({type:'text',x:281.5,y:1336,z:11,
  style:{text:'length in Mb',fill:'#000',font:'16px '+FONT,textAlign:'center',textVerticalAlign:'middle'}});

const chart = echarts.init(document.getElementById('c'),null,{renderer:'canvas'});
chart.setOption({backgroundColor:'#fff',animation:false,grid:grids,xAxis:xAxes,yAxis:yAxes,series:series,graphic:graphics});
</script></body></html>
